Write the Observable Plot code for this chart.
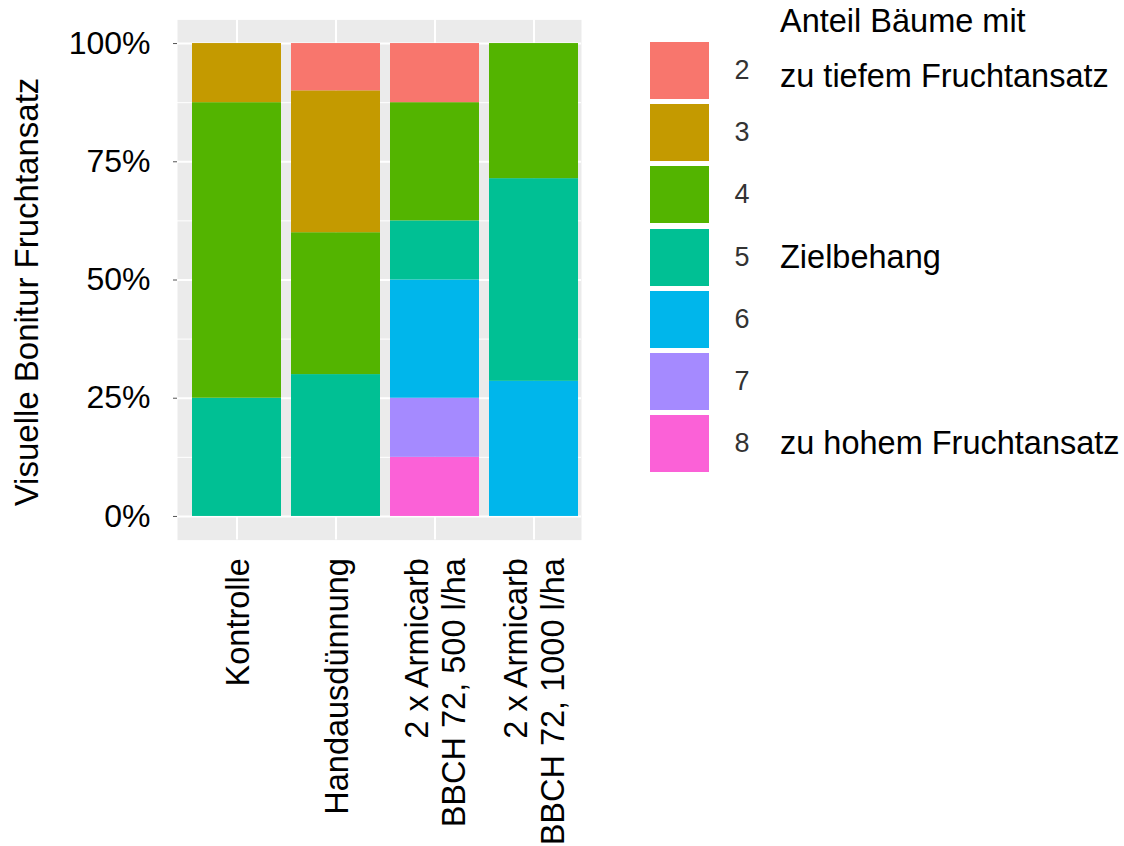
<!DOCTYPE html>
<html>
<head>
<meta charset="utf-8">
<script src="https://cdn.jsdelivr.net/npm/d3@7"></script>
<script src="https://cdn.jsdelivr.net/npm/@observablehq/plot@0.6"></script>
<style>
  html, body { margin: 0; padding: 0; background: #fff; }
  #wrap { position: relative; width: 1124px; height: 846px; font-family: "Liberation Sans", Arial, sans-serif; overflow: hidden; }
  #chart { position: absolute; left: 0; top: 0; }
  .swatch { position: absolute; left: 650px; width: 59px; height: 57px; }
  .code { position: absolute; left: 722px; width: 40px; text-align: center; font-size: 27px; line-height: 57px; color: #333; }
  .note { position: absolute; left: 780px; font-size: 32.5px; line-height: 57px; color: #000; white-space: nowrap; }
  .header { position: absolute; left: 780px; top: -6px; font-size: 32.5px; line-height: 55px; color: #000; white-space: pre; }
</style>
</head>
<body>
<div id="wrap">
  <div id="chart"></div>
</div>
<script>
// ---- data ----
const categories = ["Kontrolle", "Handausdünnung", "2 x Armicarb\nBBCH 72, 500 l/ha", "2 x Armicarb\nBBCH 72, 1000 l/ha"];
const codes = ["2", "3", "4", "5", "6", "7", "8"];
const colors = ["#F8766D", "#C49A00", "#53B400", "#00C094", "#00B6EB", "#A58AFF", "#FB61D7"];
// share of trees per code (2..8) for each treatment
const kontrolle       = [0,     0.125, 0.625,  0.25,   0,      0,     0];
const handausduennung = [0.10,  0.30,  0.30,   0.30,   0,      0,     0];
const armicarb500     = [0.125, 0,     0.25,   0.125,  0.25,   0.125, 0.125];
const armicarb1000    = [0,     0,     0.2857, 0.4286, 0.2857, 0,     0];
const majorTicks = [0, 0.25, 0.5, 0.75, 1];
const minorTicks = [0.125, 0.375, 0.625, 0.875];
const yTitle = "Visuelle Bonitur Fruchtansatz";
const legendHeader = "Anteil Bäume mit";
const legendNotes = {"2": "zu tiefem Fruchtansatz", "5": "Zielbehang", "8": "zu hohem Fruchtansatz"};

const series = [kontrolle, handausduennung, armicarb500, armicarb1000];
const rows = [];
categories.forEach((cat, i) => {
  // stack from code 8 (bottom) to code 2 (top)
  for (let j = codes.length - 1; j >= 0; j--) {
    if (series[i][j] > 0) rows.push({cat, code: codes[j], share: series[i][j]});
  }
});

const W = 630, H = 846;
const panelLeft = 177, panelRight = 581, panelTop = 19.4, panelBottom = 539.6;

const chart = Plot.plot({
  width: W,
  height: H,
  marginLeft: panelLeft,
  marginRight: W - panelRight,
  marginTop: panelTop,
  marginBottom: H - panelBottom,
  style: {fontFamily: '"Liberation Sans", Arial, sans-serif', fontSize: "32px", color: "#000", background: "transparent"},
  x: {domain: categories, range: [182.1, 588], padding: 0.1},
  y: {domain: [-0.05, 1.05]},
  color: {domain: codes, range: colors},
  marks: [
    Plot.frame({fill: "#EBEBEB", stroke: null}),
    Plot.gridY(minorTicks, {stroke: "#fff", strokeOpacity: 1, strokeWidth: 1}),
    Plot.gridY(majorTicks, {stroke: "#fff", strokeOpacity: 1, strokeWidth: 2}),
    Plot.gridX(categories, {stroke: "#fff", strokeOpacity: 1, strokeWidth: 2}),
    Plot.barY(rows, {x: "cat", y: "share", fill: "code"}),
    Plot.axisY(majorTicks, {
      tickFormat: d => Math.round(d * 100) + "%",
      tickSize: 4, tickPadding: 23, fontSize: 32,
      stroke: "#555", fill: "#000", label: null
    }),
    Plot.axisX({
      tickRotate: -90, tickSize: 0, tickPadding: 18, fontSize: 32.5,
      lineHeight: 1.14, fill: "#000", label: null
    }),
    Plot.text([yTitle], {
      text: d => d, frameAnchor: "left", rotate: -90, textAnchor: "middle",
      dx: -150, dy: 12, fontSize: 33, fill: "#000"
    })
  ]
});
document.getElementById("chart").appendChild(chart);

// ---- legend ----
const wrap = document.getElementById("wrap");
const header = document.createElement("div");
header.className = "header";
header.textContent = legendHeader + "\n" + legendNotes["2"];
wrap.appendChild(header);

codes.forEach((c, i) => {
  const top = 42 + i * 62.2;
  const sw = document.createElement("div");
  sw.className = "swatch";
  sw.style.top = top + "px";
  sw.style.background = colors[i];
  wrap.appendChild(sw);

  const num = document.createElement("div");
  num.className = "code";
  num.style.top = top + "px";
  num.textContent = c;
  wrap.appendChild(num);

  if (legendNotes[c] && c !== "2") {
    const note = document.createElement("div");
    note.className = "note";
    note.style.top = top + "px";
    note.textContent = legendNotes[c];
    wrap.appendChild(note);
  }
});
</script>
</body>
</html>
